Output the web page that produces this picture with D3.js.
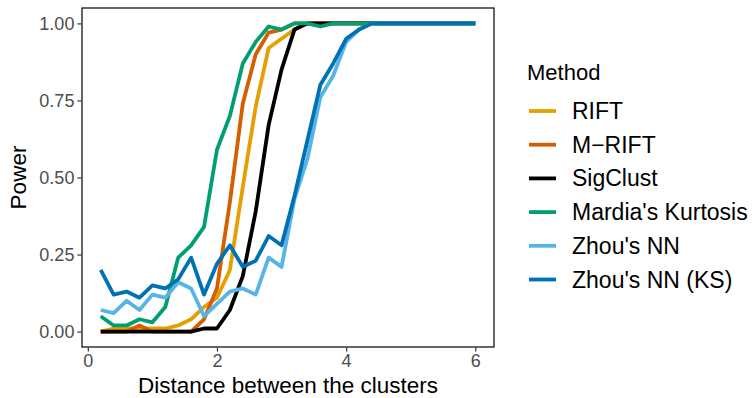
<!DOCTYPE html>
<meta charset="utf-8">
<style>
    body { margin: 0; background: #fff; }
    text { font-family: "Liberation Sans", Arial, Helvetica, sans-serif; }
    .tick text { fill: #4d4d4d; font-size: 18px; }
    .tick line { stroke: #333; }
    .domain { display: none; }
</style>
<svg width="753" height="398"></svg>
<script src="https://d3js.org/d3.v7.min.js"></script>
<script>

    // distance between the two clusters
    var distance = [0.2, 0.4, 0.6, 0.8, 1.0, 1.2, 1.4, 1.6, 1.8, 2.0,
        2.2, 2.4, 2.6, 2.8, 3.0, 3.2, 3.4, 3.6, 3.8, 4.0,
        4.2, 4.4, 4.6, 4.8, 5.0, 5.2, 5.4, 5.6, 5.8, 6.0];

    var methods = ["RIFT", "M\u2212RIFT", "SigClust", "Mardia's Kurtosis", "Zhou's NN", "Zhou's NN (KS)"];
    var colors = ["#E69F00", "#D55E00", "#000000", "#009E73", "#56B4E9", "#0072B2"];

    var rift = [0.00, 0.01, 0.01, 0.01, 0.01, 0.01, 0.02, 0.04, 0.08, 0.11,
        0.20, 0.47, 0.73, 0.92, 0.95, 0.98, 1, 1, 1, 1,
        1, 1, 1, 1, 1, 1, 1, 1, 1, 1];
    var mrift = [0, 0, 0, 0.02, 0, 0, 0, 0, 0.04, 0.14,
        0.42, 0.74, 0.90, 0.97, 0.98, 1, 1, 1, 1, 1,
        1, 1, 1, 1, 1, 1, 1, 1, 1, 1];
    var sigclust = [0, 0, 0, 0, 0, 0, 0, 0, 0.01, 0.01,
        0.07, 0.18, 0.39, 0.67, 0.85, 0.98, 1, 1, 1, 1,
        1, 1, 1, 1, 1, 1, 1, 1, 1, 1];
    var mardia = [0.05, 0.02, 0.02, 0.04, 0.03, 0.08, 0.24, 0.28, 0.34, 0.59,
        0.70, 0.87, 0.94, 0.99, 0.98, 1, 1, 0.99, 1, 1,
        1, 1, 1, 1, 1, 1, 1, 1, 1, 1];
    var zhou = [0.07, 0.06, 0.10, 0.07, 0.12, 0.11, 0.16, 0.14, 0.05, 0.09,
        0.13, 0.14, 0.12, 0.24, 0.21, 0.43, 0.56, 0.76, 0.83, 0.94,
        0.98, 1, 1, 1, 1, 1, 1, 1, 1, 1];
    var zhouKS = [0.20, 0.12, 0.13, 0.11, 0.15, 0.14, 0.17, 0.24, 0.12, 0.22,
        0.28, 0.21, 0.23, 0.31, 0.28, 0.44, 0.62, 0.80, 0.87, 0.95,
        0.98, 1, 1, 1, 1, 1, 1, 1, 1, 1];

    var xTicks = [0, 2, 4, 6];
    var yTicks = [0, 0.25, 0.5, 0.75, 1];

    var series = [rift, mrift, sigclust, mardia, zhou, zhouKS].map(function (v, i) {
        return { name: methods[i], color: colors[i], values: v };
    });

    var svg = d3.select("svg"),
        panel = { left: 82, right: 494, top: 8, bottom: 347 };

    var x = d3.scaleLinear()
        .domain([0.2 - 0.29, 6 + 0.29])
        .range([panel.left, panel.right]);

    var y = d3.scaleLinear()
        .domain([-0.05, 1.05])
        .range([panel.bottom, panel.top]);

    var line = d3.line()
        .x(function (d, i) { return x(distance[i]); })
        .y(function (d) { return y(d); });

    svg.append("g")
        .selectAll("path")
        .data(series)
        .enter().append("path")
        .attr("d", function (d) { return line(d.values); })
        .attr("fill", "none")
        .attr("stroke", function (d) { return d.color; })
        .attr("stroke-width", 3.8)
        .attr("stroke-linejoin", "round");

    svg.append("rect")
        .attr("x", panel.left)
        .attr("y", panel.top)
        .attr("width", panel.right - panel.left)
        .attr("height", panel.bottom - panel.top)
        .attr("fill", "none")
        .attr("stroke", "#000")
        .attr("stroke-width", 1.2);

    svg.append("g")
        .attr("transform", "translate(0," + (panel.bottom + 0.6) + ")")
        .call(d3.axisBottom(x).tickValues(xTicks).tickFormat(d3.format("d")).tickSize(4).tickPadding(3));

    svg.append("g")
        .attr("transform", "translate(" + (panel.left - 0.6) + ",0)")
        .call(d3.axisLeft(y).tickValues(yTicks).tickFormat(d3.format(".2f")).tickSize(4).tickPadding(3));

    svg.selectAll(".tick line").attr("stroke-width", 1.2);

    svg.append("text")
        .attr("x", (panel.left + panel.right) / 2)
        .attr("y", 393)
        .attr("text-anchor", "middle")
        .style("font-size", "22.5px")
        .text("Distance between the clusters");

    svg.append("text")
        .attr("transform", "translate(26," + ((panel.top + panel.bottom) / 2) + ") rotate(-90)")
        .attr("text-anchor", "middle")
        .style("font-size", "22.5px")
        .text("Power");

    // legend
    var legend = svg.append("g").attr("transform", "translate(527,0)");

    legend.append("text")
        .attr("x", 0)
        .attr("y", 80)
        .style("font-size", "22px")
        .text("Method");

    var item = legend.selectAll("g.item")
        .data(series)
        .enter().append("g")
        .attr("class", "item")
        .attr("transform", function (d, i) { return "translate(0," + (111 + i * 33.7) + ")"; });

    item.append("line")
        .attr("x1", 2).attr("x2", 29)
        .attr("stroke", function (d) { return d.color; })
        .attr("stroke-width", 3.8);

    item.append("text")
        .attr("x", 45)
        .attr("y", 8)
        .style("font-size", "23px")
        .text(function (d) { return d.name; });

</script>
